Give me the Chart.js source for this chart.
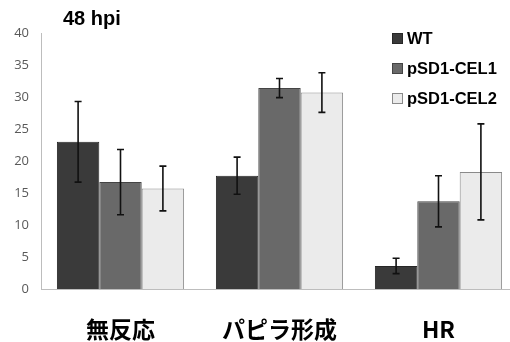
<!DOCTYPE html>
<html><head><meta charset="utf-8">
<script src="https://cdn.jsdelivr.net/npm/chart.js@4/dist/chart.umd.min.js"></script>
<style>
html,body{margin:0;padding:0;background:#fff;overflow:hidden;width:510px;height:342px}
#wrap{position:relative;width:520px;height:342px}
</style></head>
<body><div id="wrap"><canvas id="c" width="520" height="342"></canvas></div>
<script>
const categories = ['無反応', 'パピラ形成', 'HR'];
const seriesNames = ['WT', 'pSD1-CEL1', 'pSD1-CEL2'];
const wtValues = [23.0, 17.7, 3.6];
const cel1Values = [16.7, 31.4, 13.7];
const cel2Values = [15.7, 30.7, 18.3];
const wtErrors = [6.3, 2.9, 1.2];
const cel1Errors = [5.1, 1.5, 4.0];
const cel2Errors = [3.5, 3.1, 7.5];
const yTicks = [0, 5, 10, 15, 20, 25, 30, 35, 40];
const titleText = '48 hpi';

const fills = ['#3a3a3a', '#696969', '#ebebeb'];
const borders = ['#262626', '#444444', '#8a8a8a'];
const values = [wtValues, cel1Values, cel2Values];
const errors = [wtErrors, cel1Errors, cel2Errors];

const errorBarPlugin = {
  id: 'errorBars',
  afterDatasetsDraw(chart) {
    const ctx = chart.ctx;
    const y = chart.scales.y;
    ctx.save();
    ctx.strokeStyle = '#111';
    ctx.lineWidth = 1.6;
    chart.data.datasets.forEach((ds, di) => {
      const meta = chart.getDatasetMeta(di);
      meta.data.forEach((bar, i) => {
        const v = ds.data[i], e = ds.errors[i];
        const x = bar.x;
        const yt = y.getPixelForValue(v + e), yb = y.getPixelForValue(v - e);
        ctx.beginPath();
        ctx.moveTo(x, yt); ctx.lineTo(x, yb);
        ctx.moveTo(x - 3.5, yt); ctx.lineTo(x + 3.5, yt);
        ctx.moveTo(x - 3.5, yb); ctx.lineTo(x + 3.5, yb);
        ctx.stroke();
      });
    });
    ctx.restore();
  }
};

const legendTitlePlugin = {
  id: 'legendTitle',
  afterDraw(chart) {
    const ctx = chart.ctx;
    ctx.save();
    ctx.fillStyle = '#000';
    ctx.font = 'bold 20px "Liberation Sans", Arial, sans-serif';
    ctx.textBaseline = 'middle';
    ctx.textAlign = 'left';
    ctx.fillText(titleText, 63, 19);
    ctx.font = 'bold 16.5px "Liberation Sans", Arial, sans-serif';
    chart.data.datasets.forEach((ds, i) => {
      const cy = 38 + i * 30;
      ctx.fillStyle = ds.backgroundColor;
      ctx.fillRect(392, cy - 5, 11, 11);
      ctx.strokeStyle = ds.borderColor;
      ctx.lineWidth = 1;
      ctx.strokeRect(392.5, cy - 4.5, 10, 10);
      ctx.fillStyle = '#000';
      ctx.fillText(ds.label, 407, cy + 1);
    });
    ctx.restore();
  }
};

new Chart(document.getElementById('c'), {
  type: 'bar',
  data: {
    labels: categories,
    datasets: seriesNames.map((n, i) => ({
      label: n,
      data: values[i],
      errors: errors[i],
      backgroundColor: fills[i],
      borderColor: borders[i],
      borderWidth: 1,
      categoryPercentage: 0.8,
      barPercentage: 1.0
    }))
  },
  options: {
    responsive: false,
    animation: false,
    layout: { padding: { top: 33, right: 2, left: 0, bottom: 0 } },
    plugins: { legend: { display: false }, title: { display: false }, tooltip: { enabled: false } },
    scales: {
      x: {
        grid: { display: false, drawTicks: false },
        border: { color: '#bdbdbd', width: 1 },
        ticks: { color: '#000', padding: 26, font: { family: '"Noto Sans CJK JP"', size: 23, weight: 'bold' } },
        afterFit(s) { s.height = 53; }
      },
      y: {
        min: 0, max: 40,
        afterBuildTicks(s) { s.ticks = yTicks.map(v => ({ value: v })); },
        grid: { display: false, drawTicks: false },
        border: { color: '#bdbdbd', width: 1 },
        ticks: { color: '#595959', padding: 12, font: { family: '"Open Sans"', size: 13 } },
        afterFit(s) { s.width = 41; }
      }
    }
  },
  plugins: [errorBarPlugin, legendTitlePlugin]
});
</script></body></html>
